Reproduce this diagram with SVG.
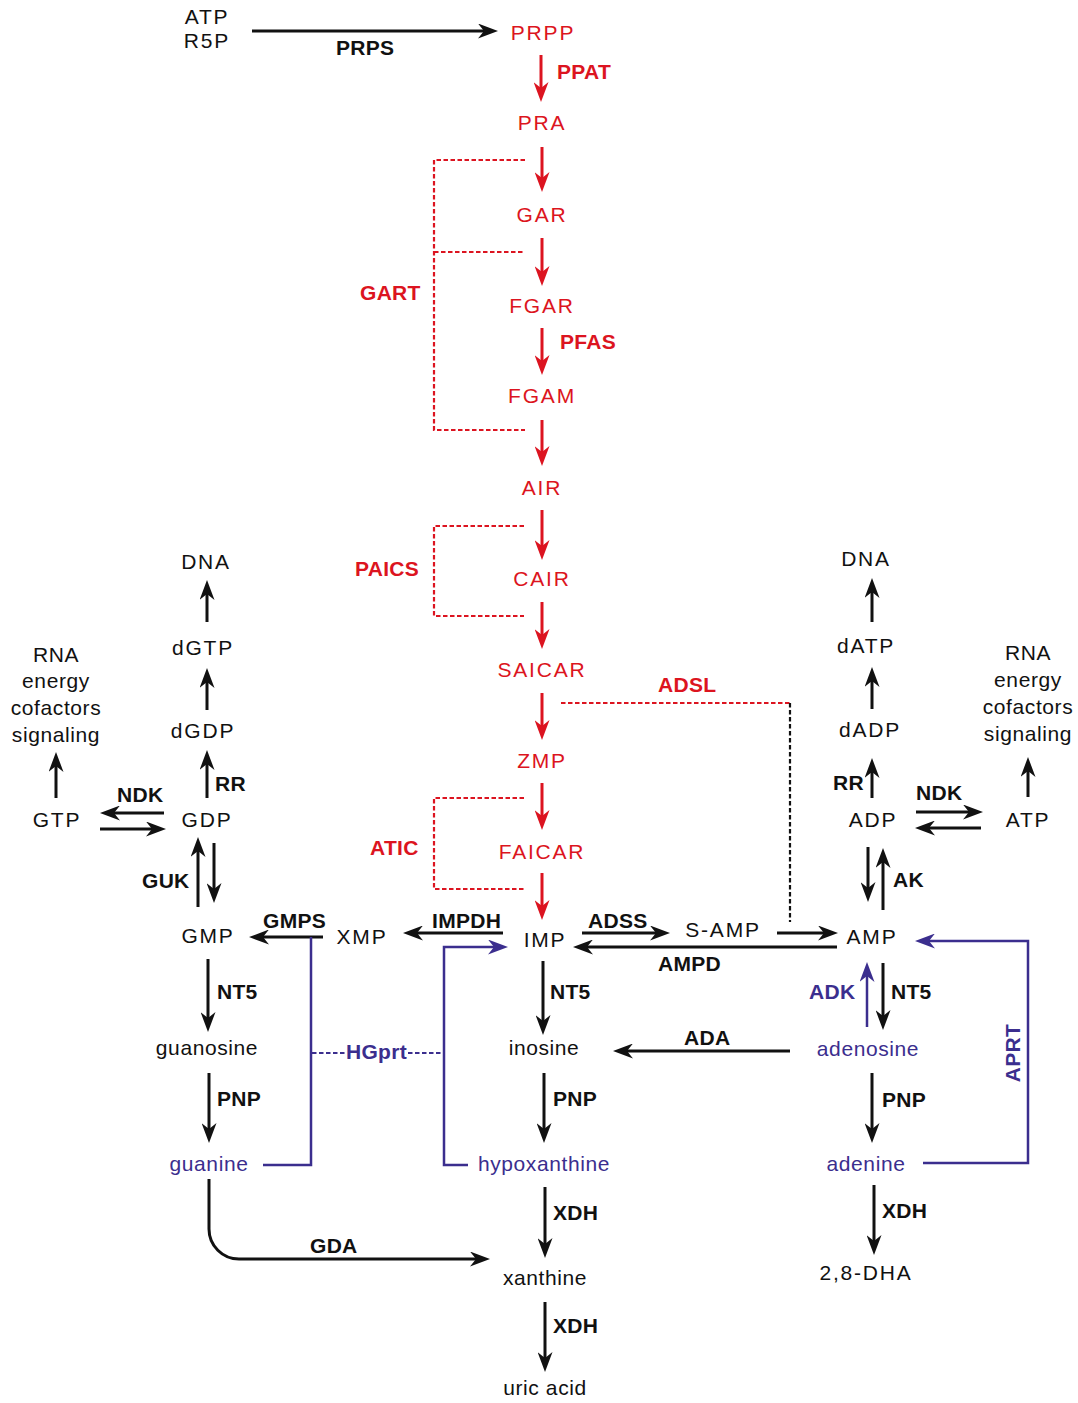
<svg xmlns="http://www.w3.org/2000/svg" width="1078" height="1403" viewBox="0 0 1078 1403">
<style>
text{font-family:"Liberation Sans",Arial,Helvetica,sans-serif;font-size:21px}
.n{fill:#111;letter-spacing:1.8px;text-anchor:middle}
.lc{letter-spacing:0.6px}
.r{fill:#dc1420}
.p{fill:#3b2e8e}
.b{font-weight:bold;fill:#111;letter-spacing:0.3px}
.b.r{fill:#dc1420}
.b.p{fill:#3b2e8e}
.k{fill:none;stroke:#111;stroke-width:3}
.kr{fill:none;stroke:#dc1420;stroke-width:3}
.kp{fill:none;stroke:#3b2e8e;stroke-width:2.5}
.ak{marker-end:url(#ah)}
.ar{marker-end:url(#ahr)}
.ap{marker-end:url(#ahp)}
.dr{fill:none;stroke:#dc1420;stroke-width:2.2;stroke-dasharray:4.5 2.5}
.dk{fill:none;stroke:#111;stroke-width:2.2;stroke-dasharray:4.5 2.5}
.dp{fill:none;stroke:#3b2e8e;stroke-width:2.2;stroke-dasharray:4.5 2.5}
</style>
<defs>
<marker id="ah" markerUnits="userSpaceOnUse" viewBox="0 0 20 15" markerWidth="20" markerHeight="15" refX="10" refY="7.5" orient="auto"><path d="M20,7.5 L0,0 L6,7.5 L0,15 z" fill="#111"/></marker>
<marker id="ahr" markerUnits="userSpaceOnUse" viewBox="0 0 20 15" markerWidth="20" markerHeight="15" refX="10" refY="7.5" orient="auto"><path d="M20,7.5 L0,0 L6,7.5 L0,15 z" fill="#dc1420"/></marker>
<marker id="ahp" markerUnits="userSpaceOnUse" viewBox="0 0 20 15" markerWidth="20" markerHeight="15" refX="10" refY="7.5" orient="auto"><path d="M20,7.5 L0,0 L6,7.5 L0,15 z" fill="#3b2e8e"/></marker>
</defs>
<rect width="1078" height="1403" fill="#fff"/>

<g id="connectors">
<!-- black arrows -->
<path class="k ak" d="M252,31 H488"/>
<path class="k ak" d="M164,813 H110"/>
<path class="k ak" d="M100,829 H156"/>
<path class="k ak" d="M56,798 V762"/>
<path class="k ak" d="M207,798 V760"/>
<path class="k ak" d="M207,710 V678"/>
<path class="k ak" d="M207,622 V590"/>
<path class="k ak" d="M198,907 V847"/>
<path class="k ak" d="M214,843 V893"/>
<path class="k ak" d="M323,937 H259"/>
<path class="k ak" d="M503,933 H413"/>
<path class="k ak" d="M582,933 H660"/>
<path class="k ak" d="M837,947 H583"/>
<path class="k ak" d="M777,933 H828"/>
<path class="k ak" d="M208,959 V1022"/>
<path class="k ak" d="M209,1073 V1133"/>
<path class="k ak" d="M543,961 V1025"/>
<path class="k ak" d="M790,1051 H623"/>
<path class="k ak" d="M544,1073 V1133"/>
<path class="k ak" d="M545,1187 V1248"/>
<path class="k ak" d="M545,1302 V1362"/>
<path class="k ak" d="M209,1179 V1229 A30,30 0 0 0 239,1259 H480"/>
<path class="k ak" d="M883,963 V1020"/>
<path class="k ak" d="M872,1073 V1133"/>
<path class="k ak" d="M874,1185 V1245"/>
<path class="k ak" d="M868,847 V892"/>
<path class="k ak" d="M883,910 V858"/>
<path class="k ak" d="M872,798 V768"/>
<path class="k ak" d="M872,709 V677"/>
<path class="k ak" d="M872,622 V588"/>
<path class="k ak" d="M916,812 H973"/>
<path class="k ak" d="M981,828 H925"/>
<path class="k ak" d="M1028,797 V767"/>
<!-- red arrows -->
<path class="kr ar" d="M541,55 V92"/>
<path class="kr ar" d="M542,147 V182"/>
<path class="kr ar" d="M542,238 V276"/>
<path class="kr ar" d="M542,328 V365"/>
<path class="kr ar" d="M542,420 V456"/>
<path class="kr ar" d="M542,510 V550"/>
<path class="kr ar" d="M542,602 V639"/>
<path class="kr ar" d="M542,693 V730"/>
<path class="kr ar" d="M542,783 V820"/>
<path class="kr ar" d="M542,873 V910"/>
<!-- purple -->
<path class="kp ap" d="M468,1165 H444 V947 H498"/>
<path class="kp" d="M263,1165 H311 V937"/>
<path class="kp ap" d="M867,1027 V972"/>
<path class="kp ap" d="M923,1163 H1028 V941 H925"/>
<!-- dashed -->
<path class="dr" d="M525,160 H434 V430 H525 M434,252 H525"/>
<path class="dr" d="M524,526 H434 V616 H524"/>
<path class="dr" d="M524,798 H434 V889 H524"/>
<path class="dr" d="M561,703 H790"/>
<path class="dk" d="M790,703 V922"/>
<path class="dp" d="M312,1053 H345 M408,1053 H444"/>
</g>

<g id="labels">
<text class="b" x="336" y="55">PRPS</text>
<text class="b r" x="557" y="79">PPAT</text>
<text class="b r" x="360" y="300">GART</text>
<text class="b r" x="560" y="349">PFAS</text>
<text class="b r" x="355" y="576">PAICS</text>
<text class="b r" x="370" y="855">ATIC</text>
<text class="b r" x="658" y="692">ADSL</text>
<text class="b" x="117" y="802">NDK</text>
<text class="b" x="215" y="791">RR</text>
<text class="b" x="142" y="888">GUK</text>
<text class="b" x="263" y="928">GMPS</text>
<text class="b" x="432" y="928">IMPDH</text>
<text class="b" x="588" y="928">ADSS</text>
<text class="b" x="658" y="971">AMPD</text>
<text class="b" x="217" y="999">NT5</text>
<text class="b" x="550" y="999">NT5</text>
<text class="b" x="891" y="999">NT5</text>
<text class="b p" x="809" y="999">ADK</text>
<text class="b" x="684" y="1045">ADA</text>
<text class="b p" x="346" y="1059">HGprt</text>
<text class="b" x="217" y="1106">PNP</text>
<text class="b" x="553" y="1106">PNP</text>
<text class="b" x="882" y="1107">PNP</text>
<text class="b" x="553" y="1220">XDH</text>
<text class="b" x="553" y="1333">XDH</text>
<text class="b" x="882" y="1218">XDH</text>
<text class="b" x="310" y="1253">GDA</text>
<text class="b" x="833" y="790">RR</text>
<text class="b" x="916" y="800">NDK</text>
<text class="b" x="893" y="887">AK</text>
<text class="b p" text-anchor="middle" transform="translate(1020,1053) rotate(-90)">APRT</text>
</g>

<g id="node-atp-r5p"><text class="n" x="207" y="24">ATP</text><text class="n" x="207" y="48">R5P</text></g>
<g id="node-prpp"><text class="n r" x="543" y="40">PRPP</text></g>
<g id="node-pra"><text class="n r" x="542" y="130">PRA</text></g>
<g id="node-gar"><text class="n r" x="542" y="222">GAR</text></g>
<g id="node-fgar"><text class="n r" x="542" y="313">FGAR</text></g>
<g id="node-fgam"><text class="n r" x="542" y="403">FGAM</text></g>
<g id="node-air"><text class="n r" x="542" y="495">AIR</text></g>
<g id="node-cair"><text class="n r" x="542" y="586">CAIR</text></g>
<g id="node-saicar"><text class="n r" x="542" y="677">SAICAR</text></g>
<g id="node-zmp"><text class="n r" x="542" y="768">ZMP</text></g>
<g id="node-faicar"><text class="n r" x="542" y="859">FAICAR</text></g>
<g id="node-imp"><text class="n" x="545" y="947">IMP</text></g>
<g id="node-xmp"><text class="n" x="362" y="944">XMP</text></g>
<g id="node-gmp"><text class="n" x="208" y="943">GMP</text></g>
<g id="node-samp"><text class="n" x="723" y="937">S-AMP</text></g>
<g id="node-amp"><text class="n" x="872" y="944">AMP</text></g>
<g id="node-gdp"><text class="n" x="207" y="827">GDP</text></g>
<g id="node-gtp"><text class="n" x="57" y="827">GTP</text></g>
<g id="node-dgdp"><text class="n" x="203" y="738">dGDP</text></g>
<g id="node-dgtp"><text class="n" x="203" y="655">dGTP</text></g>
<g id="node-dna-left"><text class="n" x="206" y="569">DNA</text></g>
<g id="node-rna-left"><text class="n lc" x="56" y="662">RNA</text><text class="n lc" x="56" y="688">energy</text><text class="n lc" x="56" y="715">cofactors</text><text class="n lc" x="56" y="742">signaling</text></g>
<g id="node-adp"><text class="n" x="873" y="827">ADP</text></g>
<g id="node-atp"><text class="n" x="1028" y="827">ATP</text></g>
<g id="node-dadp"><text class="n" x="870" y="737">dADP</text></g>
<g id="node-datp"><text class="n" x="866" y="653">dATP</text></g>
<g id="node-dna-right"><text class="n" x="866" y="566">DNA</text></g>
<g id="node-rna-right"><text class="n lc" x="1028" y="660">RNA</text><text class="n lc" x="1028" y="687">energy</text><text class="n lc" x="1028" y="714">cofactors</text><text class="n lc" x="1028" y="741">signaling</text></g>
<g id="node-guanosine"><text class="n lc" x="207" y="1055">guanosine</text></g>
<g id="node-inosine"><text class="n lc" x="544" y="1055">inosine</text></g>
<g id="node-adenosine"><text class="n lc p" x="868" y="1056">adenosine</text></g>
<g id="node-guanine"><text class="n lc p" x="209" y="1171">guanine</text></g>
<g id="node-hypoxanthine"><text class="n lc p" x="544" y="1171">hypoxanthine</text></g>
<g id="node-adenine"><text class="n lc p" x="866" y="1171">adenine</text></g>
<g id="node-xanthine"><text class="n lc" x="545" y="1285">xanthine</text></g>
<g id="node-uric-acid"><text class="n lc" x="545" y="1395">uric acid</text></g>
<g id="node-dha"><text class="n" x="866" y="1280">2,8-DHA</text></g>
</svg>
